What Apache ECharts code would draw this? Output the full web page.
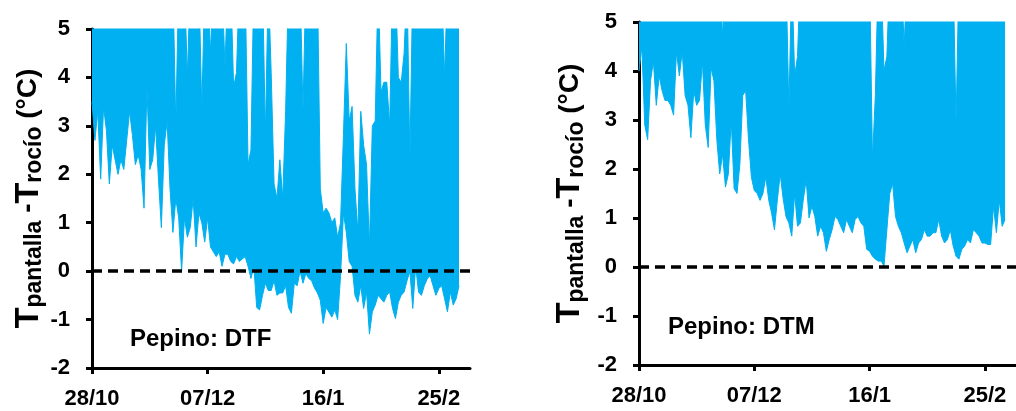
<!DOCTYPE html>
<html><head><meta charset="utf-8">
<script src="https://cdn.jsdelivr.net/npm/echarts@6/dist/echarts.min.js"></script>
<style>html,body{margin:0;padding:0;background:#fff}#c{width:1016px;height:411px}</style>
</head><body><div id="c"></div>
<script>
// Days counted from 28/10
const xTickDays = [0, 40, 80, 120];
const xTickLabels = ['28/10', '07/12', '16/1', '25/2'];

// Pepino DTF: daily minimum / maximum of T_pantalla - T_rocío (values above 5 are off-scale)
const dtfLow = [
  3.5, 2.7, 3.3, 1.9, 3.4, 2.9, 1.8, 2.6, 2.3, 2.0,
  2.3, 2.1, 2.7, 3.3, 2.8, 2.2, 2.4, 2.1, 1.3, 3.8,
  2.1, 2.3, 3.0, 1.9, 0.9, 2.6, 3.1, 1.7, 0.8, 1.5,
  1.1, 0.0, 1.1, 0.7, 0.9, 1.5, 0.5, 1.2, 1.0, 0.6,
  1.1, 0.5, 0.4, 0.3, 0.4, 0.1, 0.35, 0.35, 0.2, 0.15,
  0.3, 0.2, 0.25, 0.3, 0.1, -0.15, 0.1, -0.75, -0.8, -0.5,
  -0.25, -0.4, -0.4, -0.2, -0.5, -0.45, -0.45, -0.3, -0.75, -0.87,
  -0.25, -0.3, 0.0, -0.25, -0.05, -0.15, -0.2, -0.35, -0.45, -0.6,
  -1.08, -0.75, -0.85, -0.95, -0.8, -1.0, -0.1, 1.2, 0.8, 0.2,
  0.1, -0.5, -0.64, -0.3, -0.77, -0.43, -1.3, -0.84, -0.7, -0.5,
  -0.57, -0.64, -0.5, -0.43, -0.77, -0.98, -0.64, -0.5, -0.43, -0.2,
  0.0, -0.77, 0.1, -0.43, -0.5, -0.3, -0.16, -0.09, -0.3, -0.5,
  -0.36, -0.3, -0.57, -0.84, -0.43, -0.7, -0.57, -0.3
];
const dtfHigh = [
  6, 6, 6, 6, 6, 6, 6, 6, 6, 6,
  6, 6, 6, 6, 6, 6, 6, 6, 6, 6,
  6, 6, 6, 6, 6, 6, 6, 6, 6, 3.0,
  6, 6, 6, 4.0, 6, 6, 6, 6, 3.3, 6,
  6, 4.5, 6, 6, 6, 6, 4.2, 6, 6, 3.8,
  4.1, 6, 6, 6, 2.2, 2.5, 6, 6, 6, 6,
  2.8, 6, 4.1, 1.8, 1.5, 2.3, 1.5, 3.3, 6, 6,
  6, 6, 6, 3.3, 6, 6, 6, 6, 6, 1.7,
  1.2, 1.3, 1.2, 1.0, 1.1, 0.7, 1.0, 2.8, 4.7, 3.1,
  3.4, 1.7, 0.8, 3.3, 2.6, 2.2, 0.5, 3.0, 3.1, 6,
  3.7, 3.9, 3.9, 3.0, 6, 6, 4.0, 3.9, 4.5, 6,
  2.3, 6, 6, 6, 6, 6, 6, 6, 6, 6,
  6, 6, 4.0, 6, 6, 6, 6, 6
];

// Pepino DTM
const dtmLow = [
  4.0, 4.5, 2.9, 2.6, 3.8, 4.2, 3.3, 3.9, 3.6, 3.4,
  3.4, 3.3, 3.1, 4.4, 3.9, 4.4, 3.5, 3.3, 2.64, 3.6,
  3.3, 3.4, 4.2, 2.9, 2.44, 4.07, 3.8, 2.6, 1.9, 2.3,
  1.63, 1.9, 3.0, 1.6, 1.5, 2.1, 3.5, 3.6, 2.6, 1.83,
  1.56, 1.5, 1.36, 1.5, 1.84, 1.37, 1.1, 0.76, 1.37, 1.9,
  1.4, 1.03, 0.9, 0.63, 1.5, 0.83, 0.9, 1.37, 1.78, 1.0,
  1.24, 1.03, 0.63, 0.83, 0.7, 0.32, 0.56, 0.76, 1.03, 0.97,
  0.83, 0.7, 0.97, 0.83, 0.7, 0.97, 1.03, 0.9, 0.83, 0.36,
  0.32, 0.22, 0.16, 0.12, 0.12, 0.02, 0.76, 1.5, 1.7, 1.03,
  0.83, 0.7, 0.49, 0.29, 0.43, 0.56, 0.29, 0.49, 0.56, 0.76,
  0.63, 0.63, 0.7, 0.7, 0.97, 0.63, 0.49, 0.56, 0.76, 0.43,
  0.22, 0.16, 0.36, 0.43, 0.56, 0.49, 0.76, 0.7, 0.63, 0.49,
  0.49, 0.46, 0.46, 1.24, 0.7, 1.37, 0.83, 0.97
];
const dtmHigh = [
  6, 6, 6, 6, 6, 6, 6, 6, 6, 6,
  6, 6, 6, 6, 6, 6, 6, 6, 6, 6,
  6, 6, 6, 6, 6, 6, 6, 6, 6, 4.7,
  6, 6, 6, 6, 6, 6, 6, 6, 6, 6,
  6, 6, 6, 6, 6, 6, 6, 6, 6, 6,
  6, 6, 3.2, 6, 3.9, 4.3, 6, 6, 6, 6,
  6, 6, 6, 6, 6, 6, 6, 6, 6, 6,
  6, 6, 6, 6, 6, 6, 6, 6, 6, 6,
  6, 2.2, 3.5, 6, 6, 4.0, 4.3, 6, 6, 6,
  6, 6, 4.5, 6, 6, 6, 6, 6, 6, 6,
  6, 6, 6, 6, 6, 6, 6, 6, 6, 6,
  2.9, 6, 6, 6, 6, 6, 6, 6, 6, 6,
  6, 6, 6, 6, 6, 6, 6, 6
];

const panelLabels = ['Pepino: DTF', 'Pepino: DTM'];

const FONT = '"Liberation Sans", Arial, sans-serif';
const BLUE = '#00B0F0';

function xAxis(gi) {
  return {
    type: 'value', gridIndex: gi, min: 0, max: 130.8,
    axisLine: { onZero: false, lineStyle: { color: '#000', width: 3 } },
    axisTick: { show: true, customValues: xTickDays, length: 6, lineStyle: { color: '#000', width: 3 } },
    axisLabel: {
      customValues: xTickDays,
      formatter: v => { const k = xTickDays.indexOf(v); return k >= 0 ? xTickLabels[k] : ''; },
      color: '#000', fontFamily: FONT, fontWeight: 'bold', fontSize: 22, margin: 20
    },
    splitLine: { show: false }
  };
}
function yAxis(gi, gap) {
  return {
    type: 'value', gridIndex: gi, min: -2, max: 5, interval: 1,
    axisLine: { show: true, lineStyle: { color: '#000', width: 3 } },
    axisTick: { show: true, length: 6, lineStyle: { color: '#000', width: 3 } },
    axisLabel: { color: '#000', fontFamily: FONT, fontWeight: 'bold', fontSize: 22, margin: 22 },
    splitLine: { show: false },
    name: '{a|T}{b|pantalla}{c| -}{a|T}{b|rocío}{c| (°C)}',
    nameLocation: 'middle', nameRotate: 90, nameGap: gap,
    nameTextStyle: {
      color: '#000', fontFamily: FONT, fontWeight: 'bold',
      rich: {
        a: { fontSize: 34, fontWeight: 'bold', fontFamily: FONT, color: '#000', lineHeight: 36 },
        b: { fontSize: 23, fontWeight: 'bold', fontFamily: FONT, color: '#000', lineHeight: 24, verticalAlign: 'bottom' },
        c: { fontSize: 28, fontWeight: 'bold', fontFamily: FONT, color: '#000', lineHeight: 36 }
      }
    }
  };
}
// value first, day second, so that stacking is done on the value dimension
function bandSeries(gi, low, high) {
  const stackId = 'band' + gi;
  const base = {
    type: 'line', xAxisIndex: gi, yAxisIndex: gi,
    stack: stackId, stackStrategy: 'all',
    encode: { x: 1, y: 0 },
    showSymbol: false, symbol: 'none', clip: true, z: 2
  };
  return [
    Object.assign({}, base, {
      data: low.map((v, i) => [v, i]),
      lineStyle: { color: BLUE, width: 1 }
    }),
    Object.assign({}, base, {
      data: high.map((v, i) => [v - low[i], i]),
      lineStyle: { color: BLUE, width: 1 },
      areaStyle: { color: BLUE, opacity: 1 },
      markLine: {
        symbol: ['none', 'none'], silent: true, animation: false,
        label: { show: false },
        lineStyle: { color: '#000', type: [10, 6], width: 3.5 },
        data: [{ yAxis: 0 }],
        z: 10
      }
    })
  ];
}

const chart = echarts.init(document.getElementById('c'), null, { renderer: 'canvas' });
chart.setOption({
  animation: false,
  backgroundColor: '#fff',
  grid: [
    { left: 92, top: 29, width: 378, height: 339 },
    { left: 639, top: 22, width: 381.5, height: 343 }
  ],
  xAxis: [xAxis(0), xAxis(1)],
  yAxis: [yAxis(0, 40), yAxis(1, 51)],
  series: [].concat(bandSeries(0, dtfLow, dtfHigh), bandSeries(1, dtmLow, dtmHigh)),
  graphic: [
    { type: 'text', left: 130, top: 327, style: { text: panelLabels[0], font: 'bold 24px ' + FONT, fill: '#000' } },
    { type: 'text', left: 668, top: 315, style: { text: panelLabels[1], font: 'bold 24px ' + FONT, fill: '#000' } }
  ]
});
</script></body></html>
